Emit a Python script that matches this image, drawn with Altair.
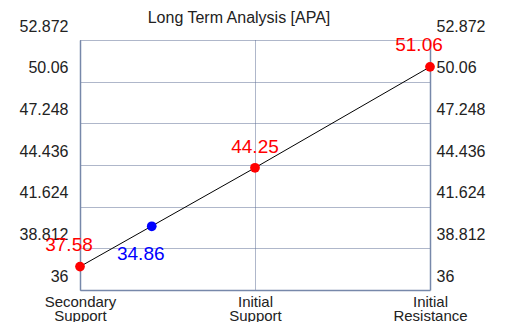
import altair as alt
import pandas as pd

categories = ["Secondary Support", "Initial Support", "Initial Resistance"]
level_positions = [0, 1, 2]
level_values = [37.58, 44.25, 51.06]
current_price = 34.86
current_position = 0.41
current_on_line = 40.3
y_ticks = [36, 38.812, 41.624, 44.436, 47.248, 50.06, 52.872]
y_domain = [36, 52.872]
title_text = "Long Term Analysis [APA]"

FONT = "Liberation Sans"
GRID = "#5f6f94"
AXIS = "#7788aa"

levels = pd.DataFrame({
    "pos": level_positions,
    "value": level_values,
    "label": [f"{v:.2f}" for v in level_values],
    "kind": ["level"] * 3,
})
current = pd.DataFrame({
    "pos": [current_position],
    "value": [current_on_line],
    "label": [f"{current_price:.2f}"],
    "kind": ["current"],
})
points = pd.concat([levels, current], ignore_index=True)

xs = alt.Scale(domain=[0, 2], nice=False, zero=False)
ys = alt.Scale(domain=y_domain, nice=False, zero=False)

split_labels = "[" + ",".join(
    "[" + ",".join(f"'{w}'" for w in c.split(" ")) + "]" for c in categories
) + "]"

x_axis = alt.Axis(values=level_positions, grid=True, gridDash=[1, 1], gridColor=GRID,
                  gridWidth=1, domainColor=AXIS, domainWidth=1.5, ticks=False,
                  labelExpr=split_labels + "[datum.value]", labelPadding=4,
                  labelFontSize=15, labelLineHeight=14, labelColor="#222",
                  labelFont=FONT, title=None, labelFlush=False, labelOverlap=False)

left_axis = alt.Axis(values=y_ticks, orient="left", grid=True, gridDash=[1, 1],
                     gridColor=GRID, gridWidth=1, domainColor=AXIS, domainWidth=1.5,
                     ticks=False, labelOffset=-14, labelPadding=12, labelFontSize=16,
                     labelColor="#222", labelFont=FONT, title=None, labelFlush=False,
                     labelOverlap=False, labelExpr="'' + datum.value")

right_axis = alt.Axis(values=y_ticks, orient="right", grid=False, domainColor=AXIS,
                      domainWidth=1.5, ticks=False, labelOffset=-14, labelPadding=6,
                      labelFontSize=16, labelColor="#222", labelFont=FONT, title=None,
                      labelFlush=False, labelOverlap=False, labelExpr="'' + datum.value")

line = alt.Chart(levels).mark_line(color="black", strokeWidth=1).encode(
    x=alt.X("pos:Q", scale=xs, axis=x_axis),
    y=alt.Y("value:Q", scale=ys, axis=left_axis),
)

def label_layer(df, idx, color, dx, dy):
    return alt.Chart(df.iloc[[idx]]).mark_text(
        font=FONT, fontSize=19, color=color, dx=dx, dy=dy
    ).encode(
        x=alt.X("pos:Q", scale=xs),
        y=alt.Y("value:Q", scale=ys),
        text="label:N",
    )

texts = [
    label_layer(levels, 0, "#ff0000", -11, -22),
    label_layer(levels, 1, "#ff0000", 0, -21),
    label_layer(levels, 2, "#ff0000", -11, -22),
    label_layer(current, 0, "#0000ff", -11, 28),
]

inner = alt.layer(line, *texts)

dots = alt.Chart(points).mark_circle(size=95, opacity=1).encode(
    x=alt.X("pos:Q", scale=xs),
    y=alt.Y("value:Q", scale=ys, axis=right_axis),
    color=alt.Color("kind:N", scale=alt.Scale(domain=["level", "current"],
                                              range=["#ff0000", "#0000ff"]), legend=None),
)

chart = alt.layer(inner, dots).resolve_scale(y="independent").properties(
    width=350,
    height=250,
    autosize=alt.AutoSizeParams(type="none"),
    padding={"left": 72, "top": 32, "right": 72, "bottom": 32},
    background="white",
    title=alt.TitleParams(title_text, font=FONT, fontSize=16, fontWeight="normal",
                          color="#222", anchor="middle", frame="group", offset=-8, dx=-16),
).configure_view(strokeWidth=0)

chart.save("out.html", embed_options={"renderer": "svg", "actions": False})
